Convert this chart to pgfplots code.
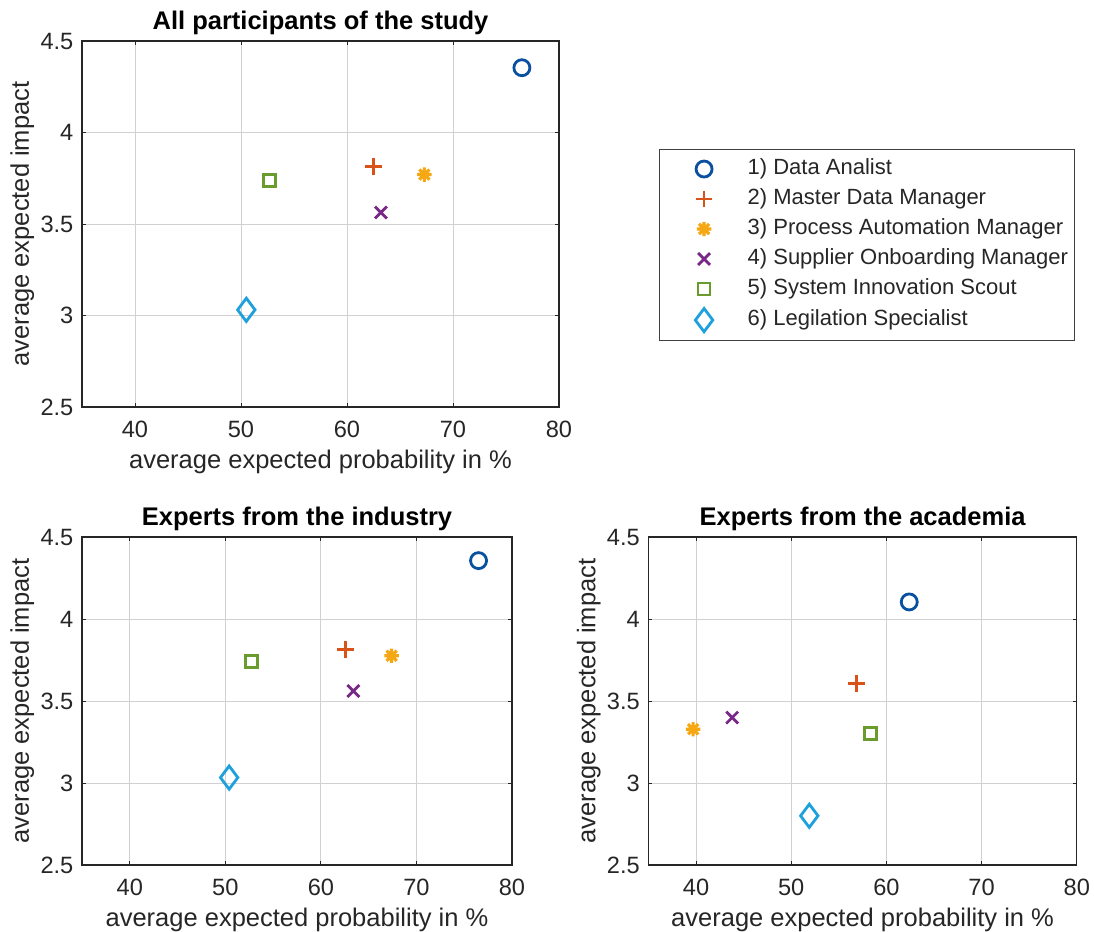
\documentclass[border=0pt]{standalone}
\usepackage{fontspec}
\setmainfont{Liberation Sans}
\usepackage{pgfplots}
\pgfplotsset{compat=1.18}

\definecolor{cA}{RGB}{10,80,160}
\definecolor{cB}{RGB}{217,83,25}
\definecolor{cC}{RGB}{245,168,20}
\definecolor{cD}{RGB}{120,40,135}
\definecolor{cE}{RGB}{105,155,45}
\definecolor{cF}{RGB}{30,160,220}

\pgfdeclareplotmark{ast8}{%
  \pgfpathmoveto{\pgfqpoint{-\pgfplotmarksize}{0pt}}\pgfpathlineto{\pgfqpoint{\pgfplotmarksize}{0pt}}%
  \pgfpathmoveto{\pgfqpoint{0pt}{-\pgfplotmarksize}}\pgfpathlineto{\pgfqpoint{0pt}{\pgfplotmarksize}}%
  \pgfpathmoveto{\pgfqpoint{-.7071\pgfplotmarksize}{-.7071\pgfplotmarksize}}\pgfpathlineto{\pgfqpoint{.7071\pgfplotmarksize}{.7071\pgfplotmarksize}}%
  \pgfpathmoveto{\pgfqpoint{-.7071\pgfplotmarksize}{.7071\pgfplotmarksize}}\pgfpathlineto{\pgfqpoint{.7071\pgfplotmarksize}{-.7071\pgfplotmarksize}}%
  \pgfusepathqstroke}

\pgfplotsset{
  myaxis/.style={
    scale only axis,
    anchor=north west,
    xmin=35, xmax=80, ymin=2.5, ymax=4.5,
    xtick={40,50,60,70,80},
    ytick={2.5,3,3.5,4,4.5},
    grid=major,
    major grid style={black!18, line width=0.5pt},
    axis line style={black!85, line width=0.6pt},
    tick align=inside,
    major tick length=2pt,
    tick style={black!85, line width=0.5pt},
    /pgf/number format/assume math mode=true,
    tick label style={font=\fontsize{11.8}{13}\selectfont, text=black!85},
    xticklabel style={yshift=-3.5pt},
    yticklabel style={xshift=-0.8pt},
    xlabel={average expected probability in \%},
    ylabel={average expected impact},
    every axis x label/.style={at={([yshift=-30.5pt]axis description cs:0.5,0)}, anchor=base, font=\fontsize{12.75}{15}\selectfont, text=black!85},
    every axis y label/.style={at={([xshift=-26.5pt]axis description cs:0,0.5)}, rotate=90, anchor=base, font=\fontsize{12.75}{15}\selectfont, text=black!85},
    every axis title/.style={at={([yshift=6pt]axis description cs:0.5,1)}, anchor=base, font=\bfseries\fontsize{12.75}{15}\selectfont},
  },
  sA/.style={only marks, mark=o, mark size=4pt, color=cA, line width=1.4pt},
  sB/.style={only marks, mark=+, mark size=4.2pt, color=cB, line width=1.4pt},
  sC/.style={only marks, mark=ast8, mark size=3.6pt, color=cC, line width=1.6pt},
  sD/.style={only marks, mark=x, mark size=4.2pt, color=cD, line width=1.4pt},
  sE/.style={only marks, mark=square, mark size=3pt, color=cE, line width=1.4pt},
  sF/.style={only marks, mark=diamond, mark size=5.8pt, color=cF, line width=1.4pt},
}

\begin{document}
\begin{tikzpicture}
\useasboundingbox (0,0) rectangle (547pt,-466pt);

% Top: all participants
\begin{axis}[myaxis,
  at={(41pt,-20.5pt)}, width=238.5pt, height=183pt,
  title={All participants of the study},
  legend style={at={(axis description cs:1.2096,0.7049)}, anchor=north west,
    draw=black!75, line width=0.5pt,
    font=\fontsize{11}{13}\selectfont, text=black!85,
    inner xsep=3pt, inner ysep=4.5pt, row sep=4.5pt,
    nodes={inner sep=0pt, text height=8pt, text depth=2.5pt}},
  legend cell align=left,
  legend image code/.code={\path (0pt,0pt) (39.5pt,0pt); \draw[#1] plot coordinates {(18.5pt,0pt)};},
]
\addplot[sA] coordinates {(76.5,4.354)};
\addlegendentry{1) Data Analist}
\addplot[sB] coordinates {(62.5,3.814)};
\addlegendentry{2) Master Data Manager}
\addplot[sC] coordinates {(67.3,3.770)};
\addlegendentry{3) Process Automation Manager}
\addplot[sD] coordinates {(63.2,3.563)};
\addlegendentry{4) Supplier Onboarding Manager}
\addplot[sE] coordinates {(52.7,3.739)};
\addlegendentry{5) System Innovation Scout}
\addplot[sF] coordinates {(50.5,3.031)};
\addlegendentry{6) Legilation Specialist}
\end{axis}

% Bottom left: industry
\begin{axis}[myaxis,
  at={(41pt,-268.5pt)}, width=215pt, height=164pt,
  title={Experts from the industry},
]
\addplot[sA] coordinates {(76.5,4.356)};
\addplot[sB] coordinates {(62.6,3.814)};
\addplot[sC] coordinates {(67.4,3.776)};
\addplot[sD] coordinates {(63.4,3.561)};
\addplot[sE] coordinates {(52.7,3.741)};
\addplot[sF] coordinates {(50.4,3.033)};
\end{axis}

% Bottom right: academia
\begin{axis}[myaxis,
  at={(324.2pt,-268.5pt)}, width=214.2pt, height=164pt,
  title={Experts from the academia},
]
\addplot[sA] coordinates {(62.4,4.104)};
\addplot[sB] coordinates {(56.9,3.608)};
\addplot[sC] coordinates {(39.7,3.328)};
\addplot[sD] coordinates {(43.8,3.399)};
\addplot[sE] coordinates {(58.3,3.303)};
\addplot[sF] coordinates {(51.9,2.800)};
\end{axis}
\end{tikzpicture}
\end{document}
